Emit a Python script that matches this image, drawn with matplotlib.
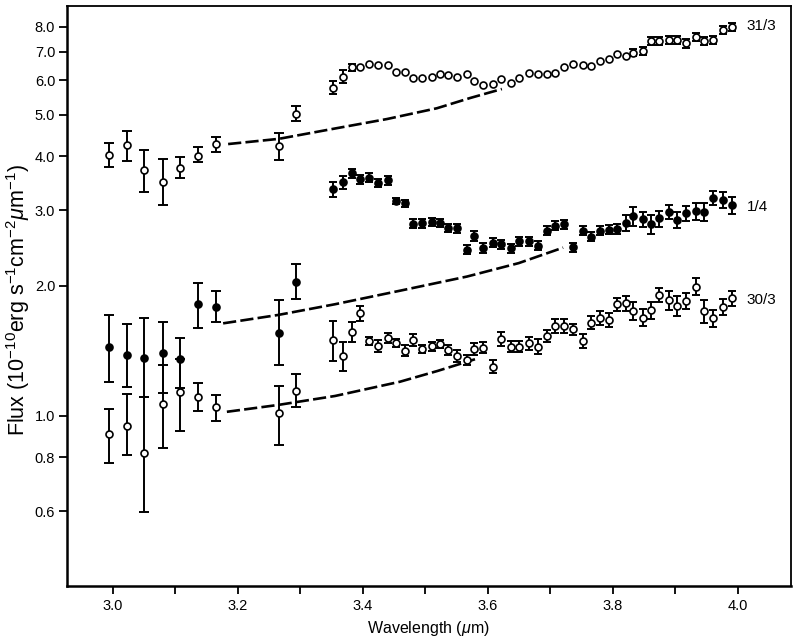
import matplotlib
matplotlib.use('Agg')
import matplotlib.pyplot as plt
from matplotlib.ticker import NullLocator, FixedLocator, FixedFormatter
import numpy as np

plt.rcParams['font.family'] = ['Liberation Sans', 'DejaVu Sans']
plt.rcParams['mathtext.fontset'] = 'custom'
plt.rcParams['mathtext.rm'] = 'Liberation Sans'
plt.rcParams['mathtext.it'] = 'Liberation Sans:italic'

# ---------------- data ----------------
# broad-band photometry wavelengths (micron)
broad_wl = [2.995, 3.023, 3.050, 3.080, 3.108, 3.137, 3.165, 3.266, 3.293]

# 31/3 (open circles, top)
b313_flux = [4.03, 4.25, 3.71, 3.49, 3.76, 4.01, 4.27, 4.23, 5.02]
b313_hi   = [4.29, 4.58, 4.14, 3.94, 3.98, 4.21, 4.43, 4.52, 5.24]
b313_lo   = [3.77, 3.91, 3.31, 3.09, 3.56, 3.87, 4.10, 3.93, 4.82]

# 1/4 (filled circles, middle)
b14_flux = [1.442, 1.383, 1.363, 1.396, 1.354, 1.814, 1.791, 1.558, 2.047]
b14_hi   = [1.713, 1.630, 1.683, 1.650, 1.515, 2.036, 1.948, 1.856, 2.250]
b14_lo   = [1.195, 1.166, 1.103, 1.127, 1.160, 1.600, 1.650, 1.313, 1.866]

# 30/3 (open circles, bottom)
b303_flux = [0.905, 0.945, 0.818, 1.065, 1.137, 1.105, 1.046, 1.013, 1.141]
b303_hi   = [1.036, 1.121, 1.103, 1.313, 1.354, 1.189, 1.117, 1.172, 1.252]
b303_lo   = [0.778, 0.811, 0.599, 0.843, 0.922, 1.025, 0.972, 0.854, 1.047]

# spectral (CVF) wavelengths (micron)
spec_wl = [3.353, 3.368, 3.383, 3.396, 3.410, 3.425, 3.440, 3.453, 3.468, 3.481,
           3.495, 3.511, 3.524, 3.537, 3.551, 3.567, 3.579, 3.593, 3.608, 3.622,
           3.638, 3.651, 3.666, 3.681, 3.695, 3.708, 3.722, 3.737, 3.752, 3.766,
           3.780, 3.794, 3.807, 3.821, 3.833, 3.848, 3.862, 3.875, 3.890, 3.903,
           3.918, 3.933, 3.946, 3.961, 3.976, 3.991]

s313_flux = [5.77, 6.12, 6.43, 6.46, 6.54, 6.52, 6.52, 6.28, 6.27, 6.07,
             6.09, 6.10, 6.21, 6.19, 6.12, 6.20, 5.99, 5.86, 5.88, 6.06,
             5.93, 6.07, 6.23, 6.20, 6.20, 6.25, 6.46, 6.54, 6.52, 6.48,
             6.66, 6.74, 6.91, 6.83, 6.96, 7.03, 7.41, 7.41, 7.44, 7.45,
             7.32, 7.58, 7.42, 7.45, 7.86, 8.00]
s313_err = [0.20, 0.21, 0.13, 0, 0, 0, 0, 0, 0, 0,
            0, 0, 0, 0, 0, 0, 0, 0, 0, 0,
            0, 0, 0, 0, 0, 0, 0, 0, 0, 0,
            0, 0, 0, 0, 0.13, 0.15, 0.16, 0.16, 0.16, 0.16,
            0.17, 0.16, 0.16, 0.16, 0.17, 0.17]

s14_flux = [3.36, 3.48, 3.65, 3.54, 3.57, 3.47, 3.52, 3.15, 3.11, 2.79,
            2.80, 2.82, 2.80, 2.73, 2.72, 2.43, 2.61, 2.45, 2.52, 2.50,
            2.45, 2.54, 2.54, 2.48, 2.69, 2.76, 2.78, 2.46, 2.69, 2.60,
            2.69, 2.70, 2.71, 2.80, 2.90, 2.86, 2.78, 2.87, 2.97, 2.85,
            2.95, 2.98, 2.97, 3.20, 3.17, 3.08]
s14_err = [0.135, 0.121, 0.092, 0.085, 0.080, 0.078, 0.081, 0.056, 0.062, 0.067,
           0.067, 0.063, 0.063, 0.061, 0.061, 0.061, 0.066, 0.065, 0.061, 0.060,
           0.059, 0.061, 0.061, 0.060, 0.065, 0.066, 0.067, 0.059, 0.065, 0.063,
           0.065, 0.065, 0.072, 0.120, 0.147, 0.115, 0.137, 0.123, 0.106, 0.119,
           0.123, 0.132, 0.146, 0.116, 0.136, 0.143]

s303_flux = [1.499, 1.376, 1.567, 1.729, 1.491, 1.451, 1.517, 1.477, 1.416, 1.499,
             1.428, 1.451, 1.467, 1.420, 1.376, 1.347, 1.428, 1.438, 1.299, 1.507,
             1.446, 1.446, 1.472, 1.446, 1.531, 1.618, 1.615, 1.587, 1.493, 1.644,
             1.689, 1.668, 1.814, 1.824, 1.753, 1.689, 1.760, 1.906, 1.856, 1.798,
             1.849, 1.993, 1.750, 1.683, 1.791, 1.873]
s303_err = [0.160, 0.108, 0.081, 0.071, 0.030, 0.046, 0.039, 0.031, 0.042, 0.045,
            0.029, 0.035, 0.033, 0.038, 0.043, 0.034, 0.048, 0.041, 0.044, 0.055,
            0.043, 0.042, 0.050, 0.059, 0.052, 0.059, 0.059, 0.046, 0.055, 0.057,
            0.062, 0.064, 0.066, 0.075, 0.083, 0.076, 0.080, 0.070, 0.094, 0.098,
            0.079, 0.090, 0.105, 0.076, 0.076, 0.077]

# model curves (dashed)
m313_wl = [3.185, 3.266, 3.356, 3.439, 3.519, 3.572, 3.623]
m313_flux = [4.27, 4.39, 4.64, 4.88, 5.17, 5.46, 5.73]
m14_wl = [3.177, 3.265, 3.356, 3.460, 3.567, 3.650, 3.721]
m14_flux = [1.638, 1.713, 1.814, 1.950, 2.103, 2.26, 2.455]
m303_wl = [3.183, 3.265, 3.356, 3.460, 3.520, 3.580]
m303_flux = [1.021, 1.059, 1.111, 1.199, 1.27, 1.352]

series_labels = ['31/3', '1/4', '30/3']
label_flux = [8.04, 3.05, 1.86]

yticks = [0.6, 0.8, 1.0, 2.0, 3.0, 4.0, 5.0, 6.0, 7.0, 8.0]
xticks_major = [3.0, 3.2, 3.4, 3.6, 3.8, 4.0]
xticks_all = [3.0, 3.1, 3.2, 3.3, 3.4, 3.5, 3.6, 3.7, 3.8, 3.9, 4.0]

# ---------------- plot ----------------
fig = plt.figure(figsize=(8.0, 6.44), dpi=100)
ax = fig.add_axes([0.08375, 0.0901, 0.905, 0.9006])

ms = 5.0
elw = 1.4

def draw(wl, flux, lo, hi, filled):
    wl = np.asarray(wl); flux = np.asarray(flux)
    yerr = [flux - np.asarray(lo), np.asarray(hi) - flux]
    ax.errorbar(wl, flux, yerr=yerr, fmt='none', ecolor='black',
                elinewidth=elw, capsize=3.8, capthick=elw, zorder=2)
    ax.plot(wl, flux, 'o', ms=ms, mec='black', mew=1.2,
            mfc='black' if filled else 'white', zorder=3, linestyle='none')

def draw_spec(wl, flux, err, filled):
    wl = np.asarray(wl); flux = np.asarray(flux); err = np.asarray(err)
    m = err > 0
    ax.errorbar(wl[m], flux[m], yerr=err[m], fmt='none', ecolor='black',
                elinewidth=elw, capsize=3.0, capthick=elw, zorder=2)
    ax.plot(wl, flux, 'o', ms=ms, mec='black', mew=1.2,
            mfc='black' if filled else 'white', zorder=3, linestyle='none')

draw(broad_wl, b313_flux, b313_lo, b313_hi, False)
draw(broad_wl, b14_flux, b14_lo, b14_hi, True)
draw(broad_wl, b303_flux, b303_lo, b303_hi, False)

draw_spec(spec_wl, s313_flux, s313_err, False)
draw_spec(spec_wl, s14_flux, s14_err, True)
draw_spec(spec_wl, s303_flux, s303_err, False)

for mw, mf in [(m313_wl, m313_flux), (m14_wl, m14_flux), (m303_wl, m303_flux)]:
    ax.plot(mw, mf, color='black', lw=1.9, dashes=(5, 1.6), zorder=1)

for lab, lf in zip(series_labels, label_flux):
    ax.text(4.015, lf, lab, ha='left', va='center', fontsize=11)

ax.set_yscale('log')
ax.set_xlim(2.9272, 4.0856)
ax.set_ylim(0.4025, 8.93)
ax.yaxis.set_major_locator(FixedLocator(yticks))
ax.yaxis.set_major_formatter(FixedFormatter([f'{v:.1f}' for v in yticks]))
ax.yaxis.set_minor_locator(NullLocator())
ax.xaxis.set_major_locator(FixedLocator(xticks_all))
ax.xaxis.set_major_formatter(FixedFormatter(
    [f'{v:.1f}' if v in xticks_major else '' for v in xticks_all]))
ax.xaxis.set_minor_locator(NullLocator())
ax.tick_params(axis='both', direction='out', length=6, width=1.3,
               labelsize=10.5, colors='black')
ax.tick_params(axis='x', pad=3.5)
ax.tick_params(axis='y', pad=2.5)
for s in ax.spines.values():
    s.set_linewidth(1.3)
ax.spines['left'].set_linewidth(1.8)
ax.spines['bottom'].set_linewidth(1.8)

fig.text(0.535, 1 - 628 / 644, r'Wavelength ($\mu$m)', ha='center', va='center',
         fontsize=11.5)
fig.text(0.022, 1 - 300 / 644,
         r'Flux (10$^{-10}$erg s$^{-1}$cm$^{-2}$$\mu$m$^{-1}$)',
         rotation=90, ha='center', va='center', fontsize=15.5)

fig.savefig('out.png', dpi=100)
